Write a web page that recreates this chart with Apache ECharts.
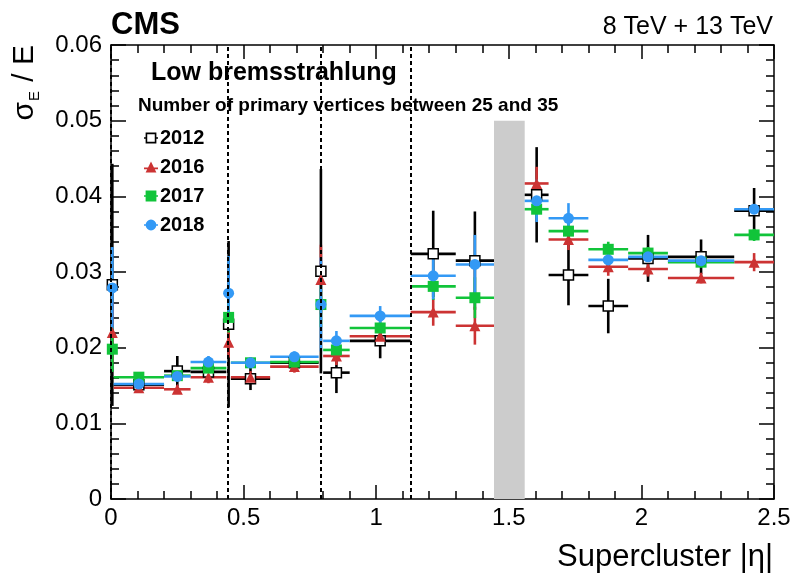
<!DOCTYPE html>
<html>
<head>
<meta charset="utf-8">
<script src="https://cdn.jsdelivr.net/npm/echarts@6/dist/echarts.min.js"></script>
<style>
  html, body { margin: 0; padding: 0; background: #fff; }
  #echarts { width: 798px; height: 574px; }
</style>
</head>
<body>
<div id="echarts"></div>
<script>
// bin edges in |eta| (the tiny bins are the module cracks)
var etaLo = [0, 0.01, 0.2, 0.3, 0.435, 0.452, 0.6, 0.783, 0.8, 0.9, 1.13, 1.3, 1.56, 1.65, 1.8, 1.95, 2.1, 2.35];
var etaHi = [0.01, 0.2, 0.3, 0.435, 0.452, 0.6, 0.783, 0.8, 0.9, 1.13, 1.3, 1.4442, 1.65, 1.8, 1.95, 2.1, 2.35, 2.5];

// sigma_E / E per bin, with symmetric errors
var res2012 = [0.0283, 0.0151, 0.0169, 0.0168, 0.0231, 0.0159, 0.0180, 0.0301, 0.0167, 0.0209, 0.0324, 0.0315, 0.0402, 0.0296, 0.0255, 0.0318, 0.0320, 0.0381];
var err2012 = [0.0160, 0.0008, 0.0020, 0.0012, 0.0110, 0.0015, 0.0008, 0.0135, 0.0027, 0.0023, 0.0057, 0.0065, 0.0063, 0.0040, 0.0036, 0.0031, 0.0023, 0.0030];
var res2016 = [0.0220, 0.0147, 0.0145, 0.0161, 0.0207, 0.0161, 0.0175, 0.0290, 0.0189, 0.0215, 0.0247, 0.0229, 0.0417, 0.0343, 0.0307, 0.0304, 0.0292, 0.0313];
var err2016 = [0.0040, 0.0006, 0.0005, 0.0008, 0.0020, 0.0008, 0.0008, 0.0046, 0.0012, 0.0010, 0.0018, 0.0025, 0.0022, 0.0014, 0.0012, 0.0010, 0.0007, 0.0012];
var res2017 = [0.0198, 0.0161, 0.0163, 0.0173, 0.0240, 0.0180, 0.0181, 0.0257, 0.0197, 0.0226, 0.0281, 0.0266, 0.0383, 0.0354, 0.0330, 0.0325, 0.0313, 0.0349];
var err2017 = [0.0030, 0.0005, 0.0005, 0.0007, 0.0020, 0.0007, 0.0006, 0.0030, 0.0010, 0.0010, 0.0018, 0.0027, 0.0011, 0.0011, 0.0010, 0.0008, 0.0007, 0.0008];
var res2018 = [0.0279, 0.0152, 0.0162, 0.0181, 0.0272, 0.0180, 0.0188, 0.0257, 0.0209, 0.0242, 0.0295, 0.0310, 0.0394, 0.0371, 0.0316, 0.0320, 0.0315, 0.0383];
var err2018 = [0.0054, 0.0006, 0.0006, 0.0008, 0.0049, 0.0007, 0.0007, 0.0062, 0.0013, 0.0013, 0.0031, 0.0039, 0.0028, 0.0020, 0.0009, 0.0007, 0.0006, 0.0005];

// module boundaries and the barrel/endcap gap
var crackEta = [0, 0.44, 0.785, 1.13];
var gapEta = [1.4442, 1.56];
var gapTop = 0.05;

var FONT = '"Liberation Sans", Arial, Helvetica, sans-serif';

var myChart = echarts.init(document.getElementById('echarts'));

function errData(vals, errs) {
    return vals.map(function (v, i) {
        return [(etaLo[i] + etaHi[i]) / 2, v, etaLo[i], etaHi[i], errs[i]];
    });
}

function errSeries(name, vals, errs, color) {
    return {
        name: name,
        type: 'custom',
        silent: true,
        data: errData(vals, errs),
        encode: { x: 0, y: 1 },
        renderItem: function (params, api) {
            var x = api.value(0), y = api.value(1), lo = api.value(2), hi = api.value(3), e = api.value(4);
            var pL = api.coord([lo, y]), pR = api.coord([hi, y]);
            var pT = api.coord([x, y + e]), pB = api.coord([x, y - e]);
            var st = { stroke: color, lineWidth: 2.6 };
            return {
                type: 'group',
                children: [
                    { type: 'line', shape: { x1: pL[0], y1: pL[1], x2: pR[0], y2: pR[1] }, style: st },
                    { type: 'line', shape: { x1: pT[0], y1: pT[1], x2: pB[0], y2: pB[1] }, style: st }
                ]
            };
        }
    };
}

function markSeries(name, vals, symbol, size, itemStyle) {
    return {
        name: name,
        type: 'scatter',
        symbol: symbol,
        symbolSize: size,
        itemStyle: itemStyle,
        data: errData(vals, vals.map(function () { return 0; })).map(function (d) { return [d[0], d[1]]; })
    };
}

var axisBlack = { color: '#000', width: 1.5 };

var crackLines = errSeries('cracks', [], [], '#000');
crackLines.markLine = {
    silent: true,
    symbol: ['none', 'none'],
    label: { show: false },
    lineStyle: { color: '#000', width: 2, type: [4, 3] },
    data: crackEta.map(function (v) { return { xAxis: v }; })
};
crackLines.markArea = {
    silent: true,
    itemStyle: { color: '#cccccc', opacity: 1 },
    data: [[{ xAxis: gapEta[0], yAxis: 0 }, { xAxis: gapEta[1], yAxis: gapTop }]]
};

// legend icons: marker with its horizontal bar
var icons = {
    '2012': 'path://M0,4.2h1.5v1.6h-1.5z M11.5,4.2h1.5v1.6h-1.5z M1.5,0h10v10h-10z M3,1.5v7h7v-7z',
    '2016': 'path://M0,5.4h13v1.6h-13z M6.5,0L11.5,10L1.5,10z',
    '2017': 'path://M0,4.2h13v1.6h-13z M1.5,0h10v10h-10z',
    '2018': 'path://M0,4.2h1.6v1.6h-1.6z M11.4,4.2h1.6v1.6h-1.6z M1.5,5a5,5 0 1,1 10,0a5,5 0 1,1 -10,0z'
};

option = {
    animation: false,
    backgroundColor: '#fff',
    textStyle: { fontFamily: FONT },
    grid: { left: 111, right: 24, top: 45, bottom: 75 },
    xAxis: [{
        type: 'value', min: 0, max: 2.5, interval: 0.5, position: 'bottom',
        axisLine: { show: true, onZero: false, lineStyle: axisBlack },
        axisTick: { show: true, inside: true, length: 14, lineStyle: axisBlack },
        minorTick: { show: true, splitNumber: 5, length: 8, lineStyle: axisBlack },
        splitLine: { show: false },
        axisLabel: { fontSize: 24, color: '#000', margin: 7, fontFamily: FONT }
    }, {
        type: 'value', min: 0, max: 2.5, interval: 0.5, position: 'top',
        axisLine: { show: true, onZero: false, lineStyle: axisBlack },
        axisTick: { show: true, inside: true, length: 14, lineStyle: axisBlack },
        minorTick: { show: true, splitNumber: 5, length: 8, lineStyle: axisBlack },
        splitLine: { show: false },
        axisLabel: { show: false }
    }],
    yAxis: [{
        type: 'value', min: 0, max: 0.06, interval: 0.01, position: 'left',
        axisLine: { show: true, onZero: false, lineStyle: axisBlack },
        axisTick: { show: true, inside: true, length: 15, lineStyle: axisBlack },
        minorTick: { show: true, splitNumber: 5, length: 8, lineStyle: axisBlack },
        splitLine: { show: false },
        axisLabel: { fontSize: 24, color: '#000', margin: 9, fontFamily: FONT }
    }, {
        type: 'value', min: 0, max: 0.06, interval: 0.01, position: 'right',
        axisLine: { show: true, onZero: false, lineStyle: axisBlack },
        axisTick: { show: true, inside: true, length: 15, lineStyle: axisBlack },
        minorTick: { show: true, splitNumber: 5, length: 8, lineStyle: axisBlack },
        splitLine: { show: false },
        axisLabel: { show: false }
    }],
    legend: {
        orient: 'vertical',
        left: 139,
        top: 123,
        itemGap: 9,
        itemWidth: 14,
        itemHeight: 11,
        selectedMode: false,
        textStyle: { fontSize: 20, fontWeight: 'bold', color: '#000', fontFamily: FONT, padding: [0, 0, 0, -3] },
        data: [
            { name: '2012', icon: icons['2012'], itemStyle: { color: '#000', borderWidth: 0 } },
            { name: '2016', icon: icons['2016'] },
            { name: '2017', icon: icons['2017'] },
            { name: '2018', icon: icons['2018'] }
        ]
    },
    graphic: [
        { type: 'text', left: 111, top: 10, style: { text: 'CMS', font: 'bold 31px ' + FONT, fill: '#000' } },
        { type: 'text', x: 773, y: 27, style: { text: '8 TeV + 13 TeV', font: '25px ' + FONT, fill: '#000', textAlign: 'right', textVerticalAlign: 'middle' } },
        { type: 'text', x: 151, y: 73, style: { text: 'Low bremsstrahlung', font: 'bold 25px ' + FONT, fill: '#000', textVerticalAlign: 'middle' } },
        { type: 'text', x: 138, y: 106, style: { text: 'Number of primary vertices between 25 and 35', font: 'bold 19px ' + FONT, fill: '#000', textVerticalAlign: 'middle' } },
        { type: 'text', x: 773, y: 557, style: { text: 'Supercluster |\u03b7|', font: '31px ' + FONT, fill: '#000', textAlign: 'right', textVerticalAlign: 'middle' } },
        {
            type: 'text', x: 25, y: 45, rotation: Math.PI / 2,
            style: {
                text: '{s|\u03c3}{sub|E}{s| / E}',
                textAlign: 'right', textVerticalAlign: 'middle', fill: '#000',
                rich: {
                    s: { fontSize: 30, fontFamily: FONT, fill: '#000' },
                    sub: { fontSize: 15, fontFamily: FONT, fill: '#000', verticalAlign: 'bottom', padding: [0, 1, -2, 1] }
                }
            }
        }
    ],
    series: [
        crackLines,
        errSeries('e2012', res2012, err2012, '#000000'),
        markSeries('2012', res2012, 'rect', 10, { color: '#ffffff', borderColor: '#000000', borderWidth: 1.5, opacity: 1 }),
        errSeries('e2016', res2016, err2016, '#cc3333'),
        markSeries('2016', res2016, 'triangle', 11, { color: '#cc3333', opacity: 1 }),
        errSeries('e2017', res2017, err2017, '#11c43a'),
        markSeries('2017', res2017, 'rect', 11, { color: '#11c43a', opacity: 1 }),
        errSeries('e2018', res2018, err2018, '#3399f5'),
        markSeries('2018', res2018, 'circle', 11, { color: '#3399f5', opacity: 1 })
    ]
};
myChart.setOption(option);
</script>
</body>
</html>
